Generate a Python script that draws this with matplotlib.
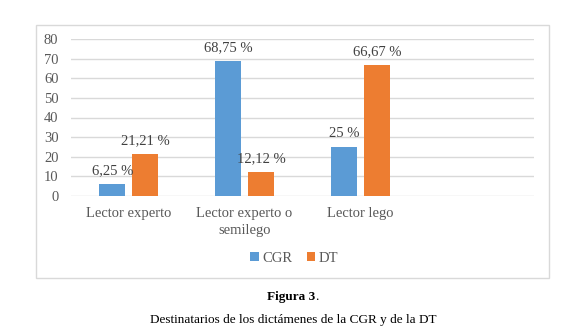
import numpy as np
from matplotlib import pyplot as plt
from matplotlib.patches import Rectangle

plt.rcParams['font.family'] = ['Liberation Serif', 'DejaVu Serif']

# data
categories = ["Lector experto", "Lector experto o\nsemilego", "Lector lego"]
cgr = [6.25, 68.75, 25]
dt = [21.21, 12.12, 66.67]
cgr_labels = ["6,25 %", "68,75 %", "25 %"]
dt_labels = ["21,21 %", "12,12 %", "66,67 %"]

blue = '#5B9BD5'
orange = '#ED7D31'
grey_txt = '#595959'

fig = plt.figure(figsize=(5.70, 3.34), dpi=100)
# outer chart border
fig.patches.append(Rectangle((36/570, 1-278/334), 513/570, 253/334, transform=fig.transFigure,
                             fill=False, edgecolor='#D9D9D9', lw=1))

ax = fig.add_axes([71/570, 1-196/334, 463/570, 157/334])
x = np.arange(len(categories))
w = 0.225
gap = 0.03
b1 = ax.bar(x - w/2 - gap, cgr, w, color=blue, label='CGR', zorder=3)
b2 = ax.bar(x + w/2 + gap, dt, w, color=orange, label='DT', zorder=3)

for bars, labs in ((b1, cgr_labels), (b2, dt_labels)):
    for rect, lab in zip(bars, labs):
        ax.annotate(lab, (rect.get_x() + rect.get_width()/2, rect.get_height()),
                    xytext=(0, 5), textcoords='offset points', ha='center', va='bottom',
                    fontsize=10.5, color='#404040')

ax.set_xlim(-0.5, 3.5)
ax.set_ylim(0, 80)
ax.set_yticks(range(0, 81, 10))
ax.set_xticks(x)
ax.set_xticklabels(categories, fontsize=10.5, color=grey_txt, linespacing=1.35)
ax.tick_params(axis='y', labelsize=10.5, labelcolor=grey_txt, length=0, pad=9)
ax.tick_params(axis='x', length=0, pad=8)
ax.yaxis.grid(True, color='#D9D9D9', lw=1, zorder=0)
for s in ax.spines.values():
    s.set_visible(False)

fig.legend(handles=[b1, b2], labels=['CGR', 'DT'], loc='center', bbox_to_anchor=(294/570, 1-258/334),
           ncol=2, frameon=False, fontsize=10.5, handlelength=0.6, handleheight=0.6,
           handletextpad=0.2, columnspacing=1.0, labelcolor=grey_txt)

# caption
t1 = fig.text(0, 1-297/334, 'Figura 3', fontsize=9.5, fontweight='bold', ha='left', va='center')
t2 = fig.text(0, 1-297/334, '.', fontsize=9.5, ha='left', va='center')
r = fig.canvas.get_renderer()
w1 = t1.get_window_extent(r).width / 570
w2 = t2.get_window_extent(r).width / 570
x0 = 293/570 - (w1 + w2)/2
t1.set_x(x0)
t2.set_x(x0 + w1)
fig.text(293/570, 1-320/334, 'Destinatarios de los dictámenes de la CGR y de la DT',
         fontsize=9.5, ha='center', va='center')

fig.savefig('out.png', dpi=100)
